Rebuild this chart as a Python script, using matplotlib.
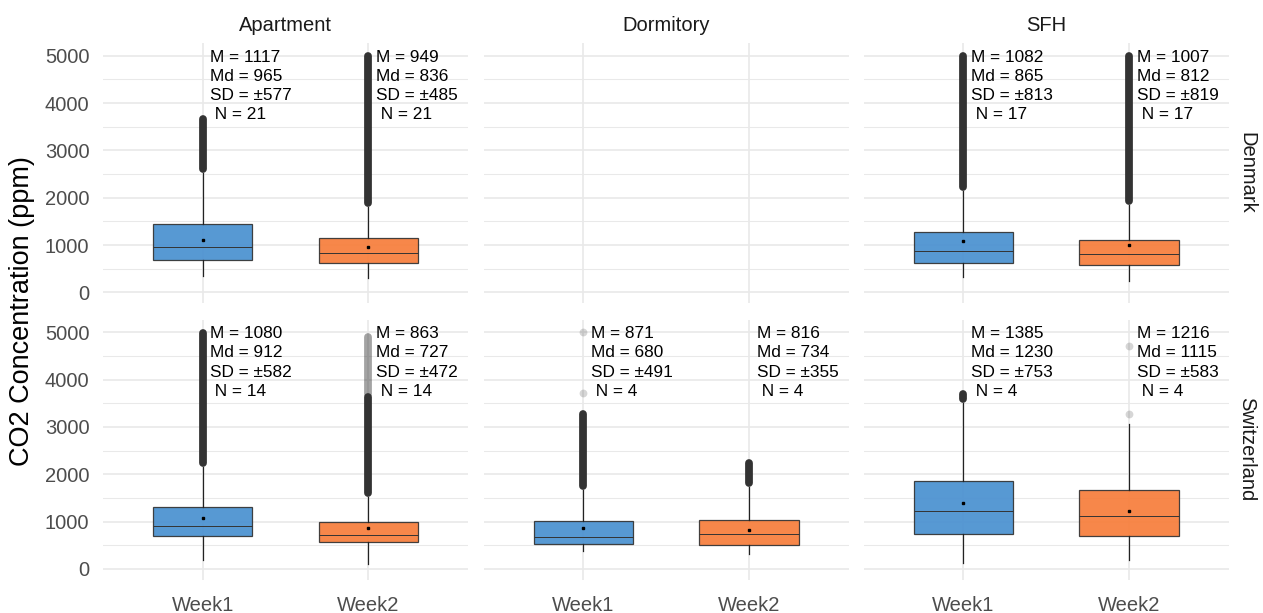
import matplotlib
matplotlib.use("Agg")
import matplotlib.pyplot as plt

plt.rcParams['font.family'] = ['Liberation Sans', 'DejaVu Sans']

# ---------------- data ----------------
countries = ["Denmark", "Switzerland"]
building_types = ["Apartment", "Dormitory", "SFH"]
weeks = ["Week1", "Week2"]
week_colors = ["#4990D0", "#F77D3A"]

# [country][building][week]; None = no data
q1 = [[[690, 627], None, [627, 570]], [[706, 579], [529, 516], [741, 698]]]
med = [[[965, 836], None, [865, 812]], [[912, 727], [680, 734], [1230, 1115]]]
q3 = [[[1449, 1139], None, [1274, 1112]], [[1304, 994], [1015, 1030], [1869, 1671]]]
whislo = [[[352, 304], None, [325, 247]], [[184, 114], [380, 311], [135, 184]]]
whishi = [[[2519, 1814], None, [2146, 1850]], [[2157, 1522], [1678, 1734], [3510, 3060]]]
mean = [[[1117, 949], None, [1082, 1007]], [[1080, 863], [871, 816], [1385, 1216]]]
sd = [[[577, 485], None, [813, 819]], [[582, 472], [491, 355], [753, 583]]]
n_homes = [[[21, 21], None, [17, 17]], [[14, 14], [4, 4], [4, 4]]]

# dense runs of outliers (lowest, highest) per [country][building][week]
dense_outliers = [
    [[[(2600, 3670)], [(1895, 4990)]], None, [[(2230, 4990)], [(1930, 4990)]]],
    [[[(2240, 4990)], [(1600, 3630), (5000, 5000)]],
     [[(1760, 3270)], [(1815, 2230)]],
     [[(3590, 3700)], []]],
]
# medium-density run of outliers
medium_outliers = [
    [[[], []], None, [[], []]],
    [[[], [(3700, 4900)]], [[], []], [[], []]],
]
# isolated outliers
sparse_outliers = [
    [[[], []], None, [[], []]],
    [[[], []], [[3720, 5000], []], [[], [3277, 4708]]],
]

yticks = [0, 1000, 2000, 3000, 4000, 5000]
yminor = [500, 1500, 2500, 3500, 4500]

# ---------------- layout ----------------
W, H = 1263, 613
fig = plt.figure(figsize=(W / 100, H / 100), dpi=100)
col_x = [103.3, 484.0, 864.0]
col_w = 364.5
row_y = [43.0, 319.6]
row_h = 260.0

grid_c = "#E9E9E9"
tick_c = "#4D4D4D"
edge_c = "#333333"
out_c = "#333333"
flier_lw = 5.6

for ci, country in enumerate(countries):
    for bi, bt in enumerate(building_types):
        x0, y0 = col_x[bi], row_y[ci]
        ax = fig.add_axes([x0 / W, 1 - (y0 + row_h) / H, col_w / W, row_h / H])
        ax.set_xlim(0.4, 2.6)
        ax.set_ylim(-224, 5268)
        ax.set_yticks(yticks)
        ax.set_yticks(yminor, minor=True)
        ax.set_xticks([1, 2])
        ax.grid(True, which='major', axis='both', color=grid_c, lw=1.2)
        ax.grid(True, which='minor', axis='y', color=grid_c, lw=0.75)
        ax.set_axisbelow(True)
        for s in ax.spines.values():
            s.set_visible(False)
        ax.tick_params(which='both', length=0)
        ax.tick_params(axis='y', labelsize=14.5, labelcolor=tick_c, pad=10)
        ax.tick_params(axis='x', labelsize=14.5, labelcolor=tick_c, pad=12)
        if ci == 0:
            ax.set_title(bt, fontsize=14.5, color="#1A1A1A", pad=8.7)

        if q1[ci][bi] is not None:
            for wi in range(2):
                pos = wi + 1
                stats = [dict(med=med[ci][bi][wi], q1=q1[ci][bi][wi], q3=q3[ci][bi][wi],
                              whislo=whislo[ci][bi][wi], whishi=whishi[ci][bi][wi],
                              mean=mean[ci][bi][wi], fliers=[])]
                for lo, hi in medium_outliers[ci][bi][wi]:
                    ax.plot([pos, pos], [lo, hi], color=out_c, alpha=0.45, lw=flier_lw,
                            solid_capstyle='round', zorder=3)
                for lo, hi in dense_outliers[ci][bi][wi]:
                    ax.plot([pos, pos], [lo, hi], color=out_c, lw=flier_lw,
                            solid_capstyle='round', zorder=3.5)
                sp = sparse_outliers[ci][bi][wi]
                if sp:
                    ax.plot([pos] * len(sp), sp, 'o', color=out_c, alpha=0.2,
                            markersize=flier_lw, markeredgewidth=0, zorder=3)
                ax.bxp(stats, positions=[pos], widths=0.6, patch_artist=True,
                       showfliers=False, showcaps=False, showmeans=True,
                       boxprops=dict(facecolor=week_colors[wi], edgecolor=edge_c, lw=0.9, alpha=0.92),
                       medianprops=dict(color=edge_c, lw=0.7),
                       whiskerprops=dict(color="#222222", lw=0.9),
                       meanprops=dict(marker='s', markerfacecolor='black',
                                      markeredgecolor='black', markersize=1.5))
                txt = (f"M = {mean[ci][bi][wi]}\nMd = {med[ci][bi][wi]}\n"
                       f"SD = \u00b1{sd[ci][bi][wi]}\n N = {n_homes[ci][bi][wi]}")
                ax.text(pos + 0.045, 5125, txt, ha='left', va='top', fontsize=12.4,
                        color='black', zorder=6, linespacing=1.34)
        ax.set_xlim(0.4, 2.6)
        ax.set_ylim(-224, 5268)
        ax.set_xticks([1, 2])
        if ci == 1:
            ax.set_xticklabels(weeks)
        else:
            ax.set_xticklabels([])
        if bi != 0:
            ax.set_yticklabels([])

# strip labels on the right
for ci, country in enumerate(countries):
    yc = row_y[ci] + row_h / 2
    fig.text(1247 / W, 1 - yc / H, country, rotation=-90, ha='center', va='center',
             fontsize=14.5, color="#1A1A1A")

fig.text(22 / W, 1 - 311 / H, "CO2 Concentration (ppm)", rotation=90,
         ha='center', va='center', fontsize=19.5, color='black')

fig.savefig("out.png", dpi=100)
